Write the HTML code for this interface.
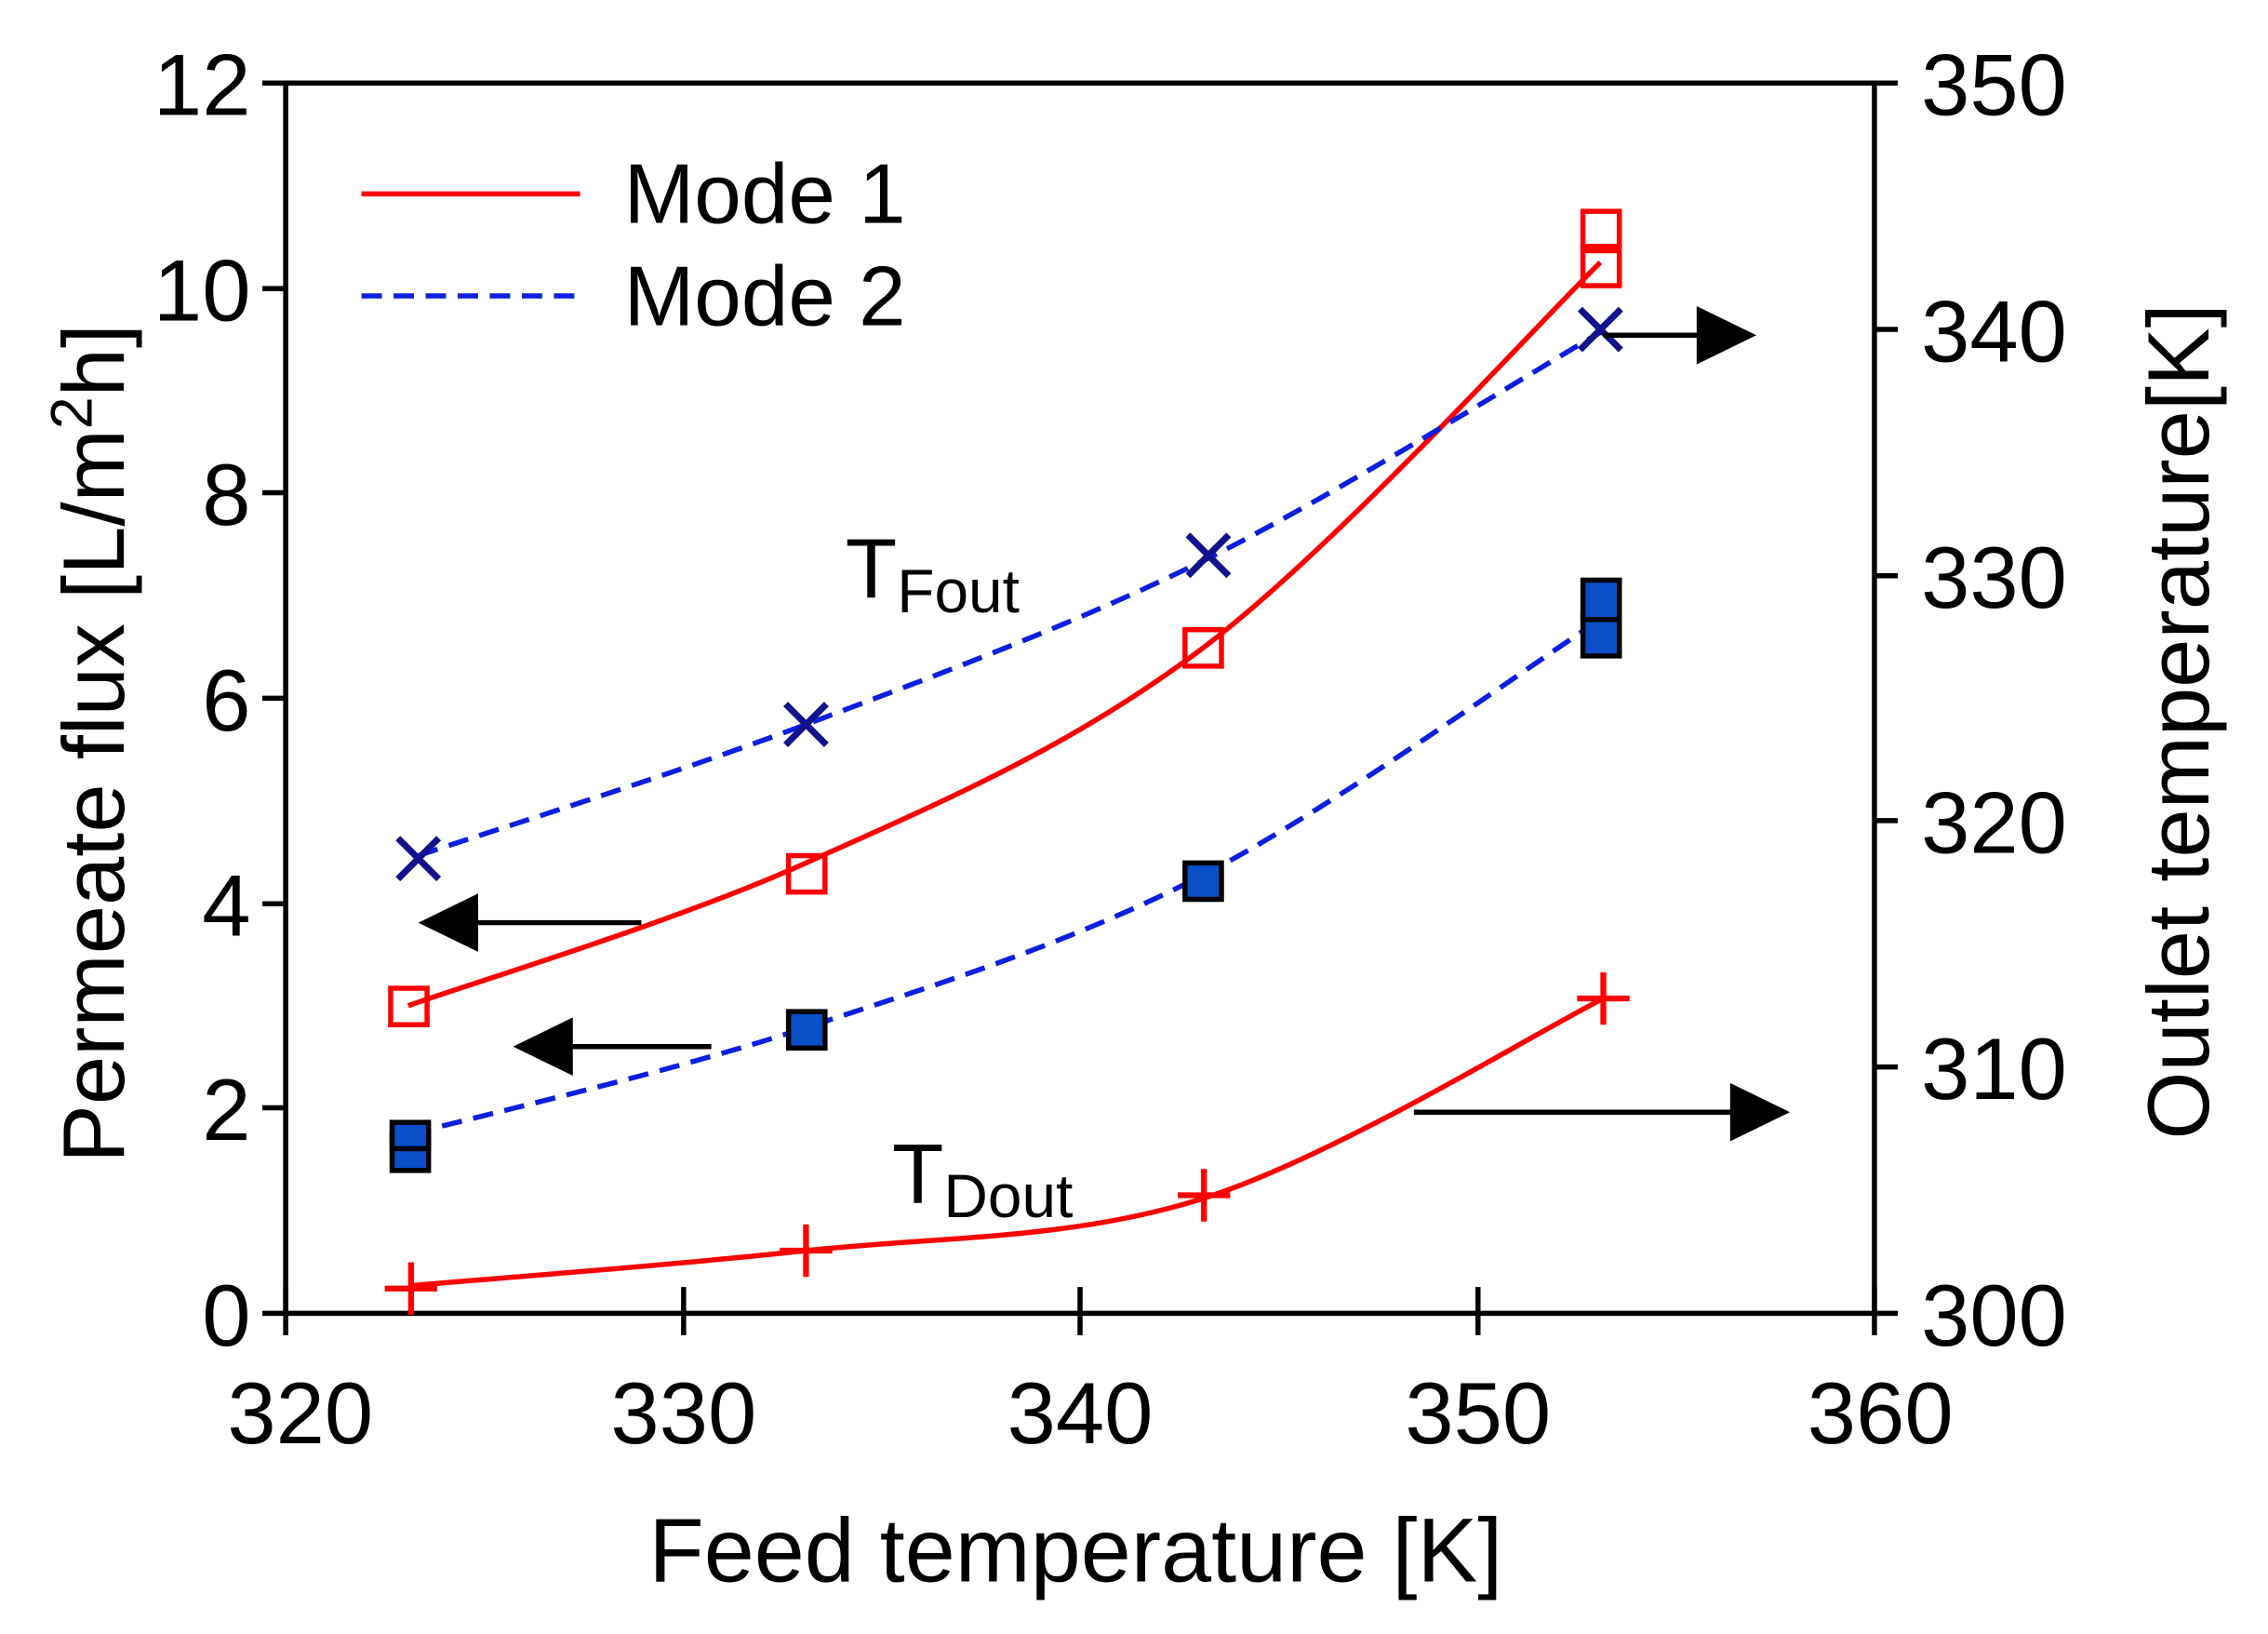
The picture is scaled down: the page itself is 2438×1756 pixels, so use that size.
<!DOCTYPE html>
<html><head><meta charset="utf-8"><style>
html,body{margin:0;padding:0;background:#fff;}
svg{display:block;}
text{font-family:"Liberation Sans",Arial,sans-serif;fill:#000;}
</style></head><body>
<svg width="2438" height="1756" viewBox="0 0 1556 1121" preserveAspectRatio="none" xmlns="http://www.w3.org/2000/svg">
<rect width="1556" height="1121" fill="#fff"/>
<g stroke="#000" stroke-width="3.5" fill="none">
<line x1="196" y1="57" x2="1286" y2="57"/>
<line x1="196" y1="57" x2="196" y2="903"/>
<line x1="1286" y1="57" x2="1286" y2="903"/>
<line x1="194" y1="901" x2="1288" y2="901"/>
<line x1="180" y1="57" x2="196" y2="57"/>
<line x1="180" y1="198" x2="196" y2="198"/>
<line x1="180" y1="338" x2="196" y2="338"/>
<line x1="180" y1="479" x2="196" y2="479"/>
<line x1="180" y1="620" x2="196" y2="620"/>
<line x1="180" y1="760" x2="196" y2="760"/>
<line x1="180" y1="901" x2="196" y2="901"/>
<line x1="1286" y1="57" x2="1302" y2="57"/>
<line x1="1286" y1="226" x2="1302" y2="226"/>
<line x1="1286" y1="395" x2="1302" y2="395"/>
<line x1="1286" y1="563" x2="1302" y2="563"/>
<line x1="1286" y1="732" x2="1302" y2="732"/>
<line x1="1286" y1="901" x2="1302" y2="901"/>
<line x1="196" y1="883" x2="196" y2="916"/>
<line x1="469" y1="883" x2="469" y2="916"/>
<line x1="741" y1="883" x2="741" y2="916"/>
<line x1="1014" y1="883" x2="1014" y2="916"/>
<line x1="1286" y1="883" x2="1286" y2="916"/>
</g>
<g font-size="60" text-anchor="end">
<text x="172" y="79">12</text>
<text x="172" y="220">10</text>
<text x="172" y="360">8</text>
<text x="172" y="501">6</text>
<text x="172" y="642">4</text>
<text x="172" y="782">2</text>
<text x="172" y="923">0</text>
</g>
<g font-size="60" text-anchor="start">
<text x="1318" y="79">350</text>
<text x="1318" y="248">340</text>
<text x="1318" y="417">330</text>
<text x="1318" y="585">320</text>
<text x="1318" y="754">310</text>
<text x="1318" y="923">300</text>
</g>
<g font-size="60" text-anchor="middle">
<text x="206" y="990">320</text>
<text x="469" y="990">330</text>
<text x="741" y="990">340</text>
<text x="1014" y="990">350</text>
<text x="1290" y="990">360</text>
</g>
<text x="738" y="1085" font-size="62" text-anchor="middle">Feed temperature [K]</text>
<text transform="translate(85,510) rotate(-90)" font-size="60" text-anchor="middle">Permeate flux [L/m<tspan dy="-22" font-size="40">2</tspan><tspan dy="22">h]</tspan></text>
<text transform="translate(1515,495) rotate(-90)" font-size="60" text-anchor="middle">Outlet temperature[K]</text>
<line x1="248" y1="133" x2="398" y2="133" stroke="#f00" stroke-width="3.5"/>
<text x="428" y="153" font-size="58">Mode 1</text>
<line x1="248" y1="203" x2="398" y2="203" stroke="#0a1fe0" stroke-width="3.5" stroke-dasharray="14,8"/>
<text x="428" y="223" font-size="58">Mode 2</text>
<g fill="none" stroke-width="3.5">
<path stroke="#f00" d="M280,690 C325.5,673.7 462,633 553,592 C644,551 735,513 826,444 C917,375 1053,224 1098,180"/>
<path stroke="#0a1fe0" stroke-dasharray="14,8" d="M282,778 C327,766 462,735 553,705 C644,675 735,647 826,600 C917,553 1053,454 1098,425"/>
<path stroke="#0a1fe0" stroke-dasharray="14,8" d="M287,587 C331,572 463,531 553,497 C643,463 738,428 829,383 C919,338 1053,254 1098,228"/>
<path stroke="#f00" d="M282,882 C327,878 462,868 553,858 C644,848 735,851 826,822 C917,793 1054,708 1100,685"/>
</g>
<g fill="none" stroke="#f00" stroke-width="3.5">
<rect x="268" y="678" width="25" height="25"/>
<rect x="541" y="587" width="25" height="25"/>
<rect x="813" y="432" width="25" height="25"/>
<rect x="1086" y="169" width="25" height="27"/>
<rect x="1086" y="145" width="25" height="27"/>
</g>
<g fill="#0a4fc8" stroke="#000" stroke-width="3.5">
<rect x="269" y="778" width="25" height="25"/>
<rect x="269" y="770" width="25" height="18"/>
<rect x="541" y="694" width="25" height="25"/>
<rect x="813" y="592" width="25" height="25"/>
<rect x="1086" y="423" width="25" height="27"/>
<rect x="1086" y="398" width="25" height="27"/>
</g>
<g stroke="#12128c" stroke-width="4.5">
<path d="M273,575 L301,603 M301,575 L273,603"/>
<path d="M539,483 L567,511 M567,483 L539,511"/>
<path d="M815,367 L843,395 M843,367 L815,395"/>
<path d="M1084,212 L1112,240 M1112,212 L1084,240"/>
</g>
<g stroke="#f00" stroke-width="4">
<path d="M264,884 L300,884 M282,866 L282,902"/>
<path d="M535,858 L571,858 M553,840 L553,876"/>
<path d="M808,820 L844,820 M826,802 L826,838"/>
<path d="M1082,685 L1118,685 M1100,667 L1100,703"/>
</g>
<g stroke="#000" stroke-width="3.5">
<line x1="440" y1="633" x2="320" y2="633"/>
<line x1="488" y1="718" x2="385" y2="718"/>
<line x1="1100" y1="230" x2="1170" y2="230"/>
<line x1="970" y1="763" x2="1192" y2="763"/>
</g>
<g fill="#000">
<polygon points="287,633 328,613 328,653"/>
<polygon points="352,718 393,698 393,738"/>
<polygon points="1205,230 1164,210 1164,250"/>
<polygon points="1228,763 1187,743 1187,783"/>
</g>
<text x="580" y="410" font-size="58">T<tspan font-size="42" dy="10">Fout</tspan></text>
<text x="612" y="825" font-size="58">T<tspan font-size="42" dy="10">Dout</tspan></text>
</svg>
</body></html>
